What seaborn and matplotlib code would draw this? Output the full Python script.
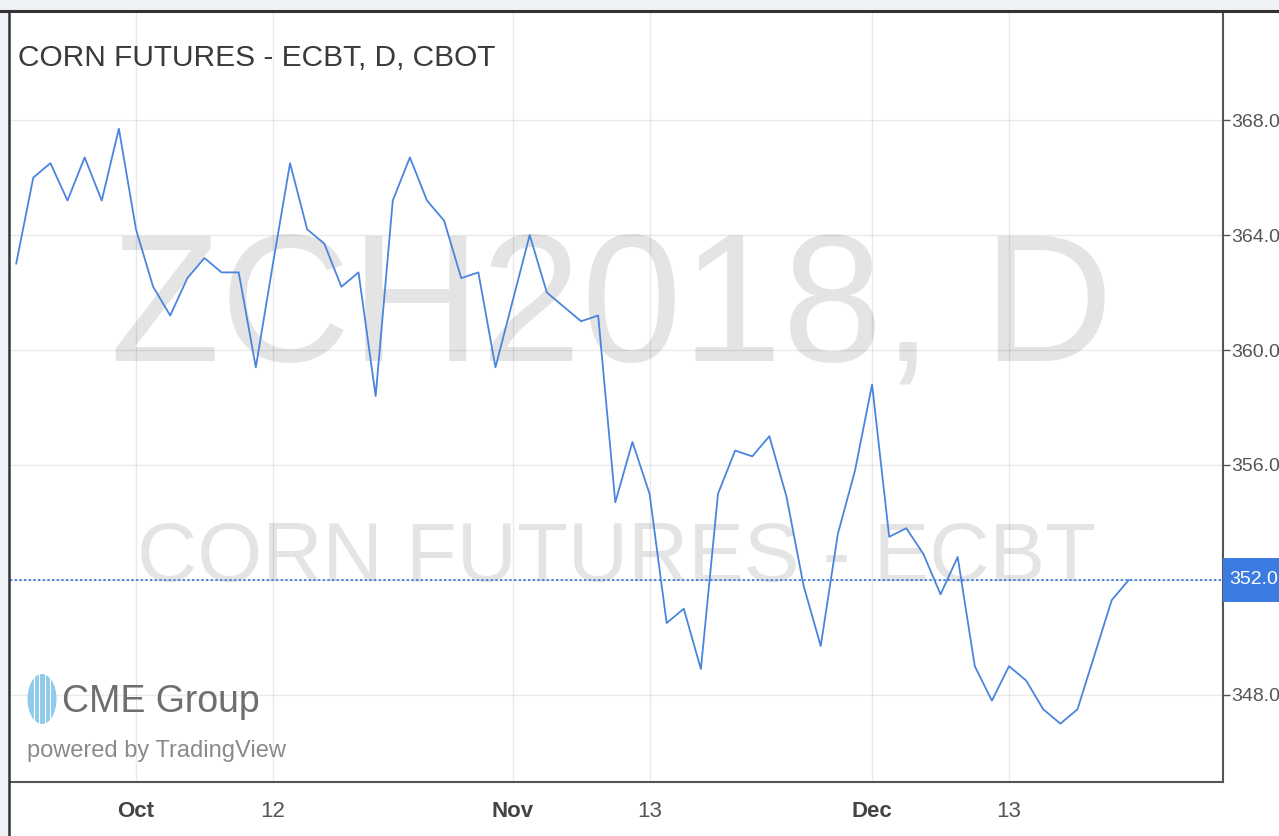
import pandas as pd
import seaborn as sns
import matplotlib.pyplot as plt
import matplotlib.transforms as mtrans
from matplotlib.lines import Line2D
from matplotlib.patches import Rectangle, Ellipse

# daily closes, ZCH2018 (trading days Sep 21 - Dec 22 2017)
dates = pd.bdate_range("2017-09-21", "2017-12-22")
dates = dates[dates != pd.Timestamp("2017-11-23")]  # Thanksgiving
closes = [363.0, 366.0, 366.5, 365.2, 366.7, 365.2, 367.7, 364.2, 362.2, 361.2,
          362.5, 363.2, 362.7, 362.7, 359.4, 363.0, 366.5, 364.2, 363.7, 362.2,
          362.7, 358.4, 365.2, 366.7, 365.2, 364.5, 362.5, 362.7, 359.4, 361.7,
          364.0, 362.0, 361.5, 361.0, 361.2, 354.7, 356.8, 355.0, 350.5, 351.0,
          348.9, 355.0, 356.5, 356.3, 357.0, 354.9, 351.8, 349.7, 353.6, 355.8,
          358.8, 353.5, 353.8, 352.9, 351.5, 352.8, 349.0, 347.8, 349.0, 348.5,
          347.5, 347.0, 347.5, 349.4, 351.3, 352.0]
last_price = 352.0

tick_dates = ["2017-10-02", "2017-10-12", "2017-11-01", "2017-11-13", "2017-12-01", "2017-12-13"]
tick_labels = ["Oct", "12", "Nov", "13", "Dec", "13"]
month_labels = ["Oct", "Nov", "Dec"]
price_ticks = [348, 352, 356, 360, 364, 368]

df = pd.DataFrame({"date": dates, "close": closes})
df["pos"] = range(len(df))

BLUE = "#4a85dd"

sns.set_style("white")
plt.rcParams["font.family"] = ["Liberation Sans", "DejaVu Sans"]

W, H = 1279, 836
fig = plt.figure(figsize=(W / 100, H / 100), dpi=100)
ax = fig.add_axes([10 / W, 54 / H, 1213 / W, 770 / H])

# watermark
wm = dict(transform=ax.transAxes, color="#e4e4e4", ha="center", va="baseline", zorder=0.1)
ax.text(0.496, (782 - 360) / 770, "ZCH2018, D", fontsize=130, **wm)
ax.text(0.4996, (782 - 581) / 770, "CORN FUTURES - ECBT", fontsize=60, **wm)

sns.lineplot(data=df, x="pos", y="close", ax=ax, color=BLUE, linewidth=1.3, zorder=3)
ax.axhline(last_price, color=BLUE, linestyle=(0, (1.2, 1.2)), linewidth=1.4, zorder=2)

ax.set_xlim(-0.36, 70.5)
ax.set_ylim(344.97, 371.76)

pos = [int(df.loc[df["date"] == pd.Timestamp(d), "pos"].iloc[0]) for d in tick_dates]
ax.set_xticks(pos)
ax.set_xticklabels(tick_labels)
for lab in ax.get_xticklabels():
    if lab.get_text() in month_labels:
        lab.set_fontweight("bold")
        lab.set_color("#444444")
    else:
        lab.set_color("#555555")

ax.yaxis.tick_right()
ax.set_yticks(price_ticks)
ax.set_yticklabels(["" if p == last_price else f"{p:.1f}" for p in price_ticks])
ax.tick_params(axis="x", length=7, width=1, color="#555555", labelsize=16, pad=7)
ax.tick_params(axis="y", length=5, width=1, color="#555555", labelsize=14,
               labelcolor="#555555", pad=1)
ax.grid(True, color="black", alpha=0.085, linewidth=1)
ax.set_axisbelow(True)
ax.set_xlabel("")
ax.set_ylabel("")

for s in ["bottom", "right"]:
    ax.spines[s].set_color("#555555")
    ax.spines[s].set_linewidth(1.5)
for s in ["top", "left"]:
    ax.spines[s].set_visible(False)

# last price label box
blend = mtrans.blended_transform_factory(ax.transAxes, ax.transData)
ax.add_patch(Rectangle((1.0, last_price - 0.78), 60 / 1213, 1.56, transform=blend,
                       fc="#3c7be0", ec="none", zorder=5, clip_on=False))
ax.text(1.0 + 6 / 1213, last_price, f"{last_price:.1f}", transform=blend, ha="left",
        va="center", fontsize=14, color="white", zorder=6, clip_on=False)

# title
ax.text(8 / 1213, (782 - 66) / 770, "CORN FUTURES - ECBT, D, CBOT", transform=ax.transAxes,
        fontsize=21.5, color="#3a3a3a", ha="left", va="baseline", zorder=4)

# CME Group logo
ax.add_patch(Ellipse(((42 - 10) / 1213, (782 - 699) / 770), 29 / 1213, 50 / 770,
                     transform=ax.transAxes, fc="#8fcbea", ec="none", zorder=4))
for dx in [-8, -3, 3, 8]:
    ax.plot([(42 + dx - 10) / 1213] * 2, [(782 - 724) / 770, (782 - 674) / 770],
            transform=ax.transAxes, color="white", lw=0.8, zorder=5)
ax.text((62 - 10) / 1213, (782 - 712) / 770, "CME Group", transform=ax.transAxes,
        fontsize=27, color="#6e6e6e", ha="left", va="baseline", zorder=4)
ax.text((27 - 10) / 1213, (782 - 757) / 770, "powered by TradingView", transform=ax.transAxes,
        fontsize=17, color="#8a8a8a", ha="left", va="baseline", zorder=4)

# page frame
fig.add_artist(Rectangle((0, 0), 9 / W, 1, transform=fig.transFigure, fc="#eef2f6", ec="none"))
fig.add_artist(Rectangle((0, (H - 11) / H), 1, 11 / H, transform=fig.transFigure,
                         fc="#eef2f6", ec="none"))
fig.add_artist(Line2D([0, 1], [(H - 11) / H] * 2, transform=fig.transFigure,
                      color="#333333", lw=2.2))
fig.add_artist(Line2D([9 / W] * 2, [0, (H - 11) / H], transform=fig.transFigure,
                      color="#333333", lw=1.8))

fig.savefig("out.png", dpi=100, facecolor="white")
